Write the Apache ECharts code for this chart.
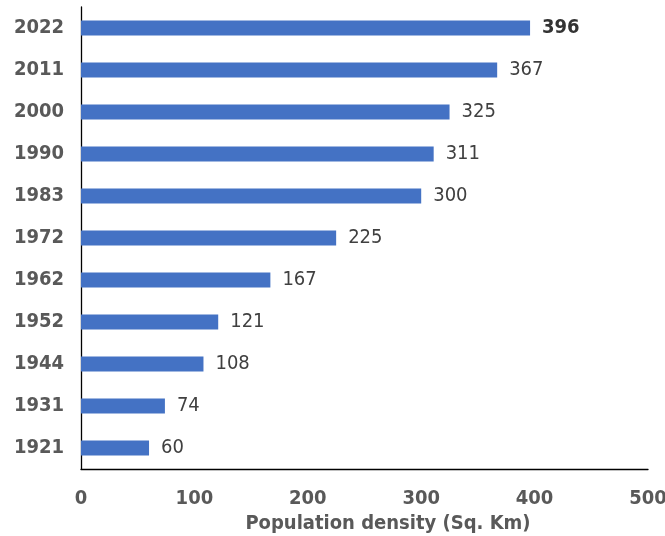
<!DOCTYPE html>
<html><head><meta charset="utf-8">
<script src="https://cdn.jsdelivr.net/npm/echarts@6/dist/echarts.min.js"></script>
<style>html,body{margin:0;padding:0;background:#fff}#c{width:665px;height:536px}</style>
</head><body><div id="c"></div>
<script>
const years = ['1921','1931','1944','1952','1962','1972','1983','1990','2000','2011','2022'];
const density = [60, 74, 108, 121, 167, 225, 300, 311, 325, 367, 396];
const xTicks = {min: 0, max: 500, interval: 100};
const axisTitle = 'Population density (Sq. Km)';

const chart = echarts.init(document.getElementById('c'), null, {renderer: 'canvas'});
const FONT = '"DejaVu Sans Condensed", "DejaVu Sans", sans-serif';
chart.setOption({
  animation: false,
  grid: {left: 81, right: 17, top: 7, bottom: 67, containLabel: false, outerBoundsMode: 'none'},
  xAxis: {
    type: 'value', min: xTicks.min, max: xTicks.max, interval: xTicks.interval,
    name: axisTitle, nameLocation: 'middle', nameGap: 41,
    nameTextStyle: {fontFamily: FONT, fontWeight: 'bold', fontSize: 20, color: '#595959', padding: [0, 0, 0, 47]},
    axisLine: {show: true, lineStyle: {color: '#000', width: 1.3}},
    axisTick: {show: false},
    splitLine: {show: false},
    axisLabel: {fontFamily: FONT, fontWeight: 'bold', fontSize: 20, color: '#595959', margin: 20}
  },
  yAxis: {
    type: 'category', data: years,
    axisLine: {show: true, lineStyle: {color: '#000', width: 1.3}},
    axisTick: {show: false},
    axisLabel: {fontFamily: FONT, fontWeight: 'bold', fontSize: 20, color: '#595959', margin: 17}
  },
  series: [{
    type: 'bar', data: density.map((v, i) => ({
      value: v,
      label: years[i] === '2022' ? {fontWeight: 'bold', color: '#333'} : undefined
    })),
    barWidth: 15,
    itemStyle: {color: '#4472C4'},
    label: {show: true, position: 'right', distance: 12, fontFamily: FONT, fontSize: 20, color: '#404040'}
  }]
});
</script></body></html>
